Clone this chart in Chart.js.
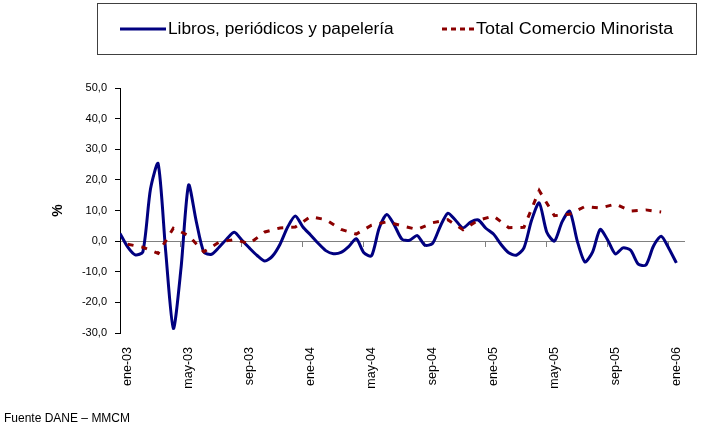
<!DOCTYPE html>
<html lang="es">
<head>
<meta charset="UTF-8" />
<title>Libros, periódicos y papelería - Total Comercio Minorista</title>
<style>
  body { margin: 0; background: #fff; font-family: 'Liberation Sans', Arial, sans-serif; color: #000; }
  .wrap { position: relative; width: 707px; height: 430px; }
  .legend { position: absolute; left: 97px; top: 3px; width: 598px; height: 50px; border: 1px solid #404040; }
  .item { position: absolute; top: 0; height: 50px; display: flex; align-items: center; font-size: 16px; white-space: nowrap; }
  .item svg { margin-right: 2px; }
  .item span { display: inline-block; transform: scaleX(1.08); transform-origin: left center; }
  .item span.wide { transform: scaleX(1.12); }
  .note { position: absolute; left: 4px; top: 411px; font-size: 12px; line-height: 14px; }
</style>
</head>
<body>
<div class="wrap">
  <canvas id="chart"></canvas>
  <div class="legend">
    <div class="item" style="left:22px">
      <svg width="46" height="4"><line x1="0" y1="2" x2="46" y2="2" stroke="#000080" stroke-width="3" /></svg>
      <span>Libros, periódicos y papelería</span>
    </div>
    <div class="item" style="left:344px">
      <svg width="32" height="4"><line x1="0" y1="2" x2="32" y2="2" stroke="#8b0000" stroke-width="3" stroke-dasharray="5 4" /></svg>
      <span class="wide">Total Comercio Minorista</span>
    </div>
  </div>
  <div class="note">Fuente DANE – MMCM</div>
</div>

<script src="https://cdn.jsdelivr.net/npm/chart.js"></script>
<script>
  // months counted from ene-03 (0) ; labels every 4 months
  const tickLabels = ['ene-03', 'may-03', 'sep-03', 'ene-04', 'may-04', 'sep-04', 'ene-05', 'may-05', 'sep-05', 'ene-06'];
  const tickMonths = [0, 4, 8, 12, 16, 20, 24, 28, 32, 36];

  // Total Comercio Minorista, monthly ene-03 .. dic-05
  const totalMinorista = [
    -1.0, -2.0, -4.0, 4.2, 1.8, -3.5, -0.3, 0.5, -0.8, 3.0, 4.3, 4.6,
    8.0, 7.0, 3.8, 2.3, 5.2, 6.3, 5.0, 3.8, 6.0, 7.0, 3.7, 6.8,
    8.2, 4.4, 4.5, 16.5, 8.3, 8.8, 11.3, 10.8, 12.1, 9.8, 10.2, 9.5
  ];

  // Libros, periódicos y papelería, read every half month from -0.5 to 36
  const librosStart = -0.5;
  const librosStep = 0.5;
  const libros = [
    2.5, -1.9, -4.5, -3.5, 17.0, 25.3, -3.5, -28.5, -9.0, 18.3, 6.5, -3.6,
    -4.3, -2.0, 0.7, 2.9, 0.3, -2.3, -4.7, -6.5, -4.9, -1.0, 4.6, 8.2,
    4.6, 2.0, -0.7, -3.1, -4.1, -3.7, -1.8, 0.8, -3.8, -4.8, 4.2, 8.7,
    5.2, 0.6, 0.3, 1.8, -1.3, -0.8, 4.7, 9.1, 6.9, 4.3, 6.2, 6.9,
    4.2, 2.3, -1.1, -3.8, -4.6, -2.2, 6.8, 12.5, 2.9, 0.0, 6.3, 9.8,
    0.0, -6.8, -3.6, 3.8, 0.3, -4.2, -2.2, -3.0, -7.5, -7.8, -1.6, 1.6,
    -2.3, -7.1
  ];

  const fontFamily = "'Liberation Sans', Arial, sans-serif";

  new Chart(document.getElementById('chart'), {
    type: 'line',
    data: {
      datasets: [
        {
          label: 'Libros, periódicos y papelería',
          data: libros.map((v, i) => ({ x: librosStart + i * librosStep, y: v })),
          borderColor: '#000080',
          borderWidth: 3,
          pointRadius: 0,
          tension: 0.25,
          order: 1
        },
        {
          label: 'Total Comercio Minorista',
          data: totalMinorista.map((v, i) => ({ x: i, y: v })),
          borderColor: '#8b0000',
          borderWidth: 3,
          borderDash: [6, 8],
          pointRadius: 0,
          tension: 0,
          order: 0
        }
      ]
    },
    options: {
      responsive: true,
      maintainAspectRatio: false,
      animation: false,
      layout: { padding: { top: 88, right: 23, bottom: 7, left: 0 } },
      plugins: {
        legend: { display: false },
        tooltip: { enabled: false }
      },
      scales: {
        x: {
          type: 'linear',
          min: -0.5,
          max: 36.5,
          position: { y: 0 },
          afterBuildTicks: s => { s.ticks = tickMonths.map(m => ({ value: m - 0.5 })); },
          ticks: { display: false },
          grid: { display: true, drawOnChartArea: false, drawTicks: true, tickLength: 5, color: '#808080' },
          border: { display: true, color: '#808080', width: 1 }
        },
        x2: {
          type: 'linear',
          min: -0.5,
          max: 36.5,
          position: 'bottom',
          afterBuildTicks: s => { s.ticks = tickMonths.map(m => ({ value: m })); },
          afterFit: s => { s.height = 90; },
          ticks: {
            autoSkip: false,
            minRotation: 90,
            maxRotation: 90,
            padding: 6,
            color: '#000',
            font: { family: fontFamily, size: 12.5 },
            callback: (v, i) => tickLabels[i]
          },
          grid: { display: false },
          border: { display: false }
        },
        y: {
          type: 'linear',
          position: 'left',
          min: -30,
          max: 50,
          afterFit: s => { s.width = 120; },
          ticks: {
            stepSize: 10,
            padding: 8,
            color: '#000',
            font: { family: fontFamily, size: 11 },
            callback: v => v.toFixed(1).replace('.', ',')
          },
          grid: { display: true, drawOnChartArea: false, drawTicks: true, tickLength: 5, color: '#000' },
          border: { display: true, color: '#000', width: 1 },
          title: {
            display: true,
            text: '%',
            color: '#000',
            font: { family: fontFamily, size: 14, weight: 'bold' },
            padding: { top: 50, bottom: 0 }
          }
        }
      }
    }
  });
</script>
</body>
</html>
